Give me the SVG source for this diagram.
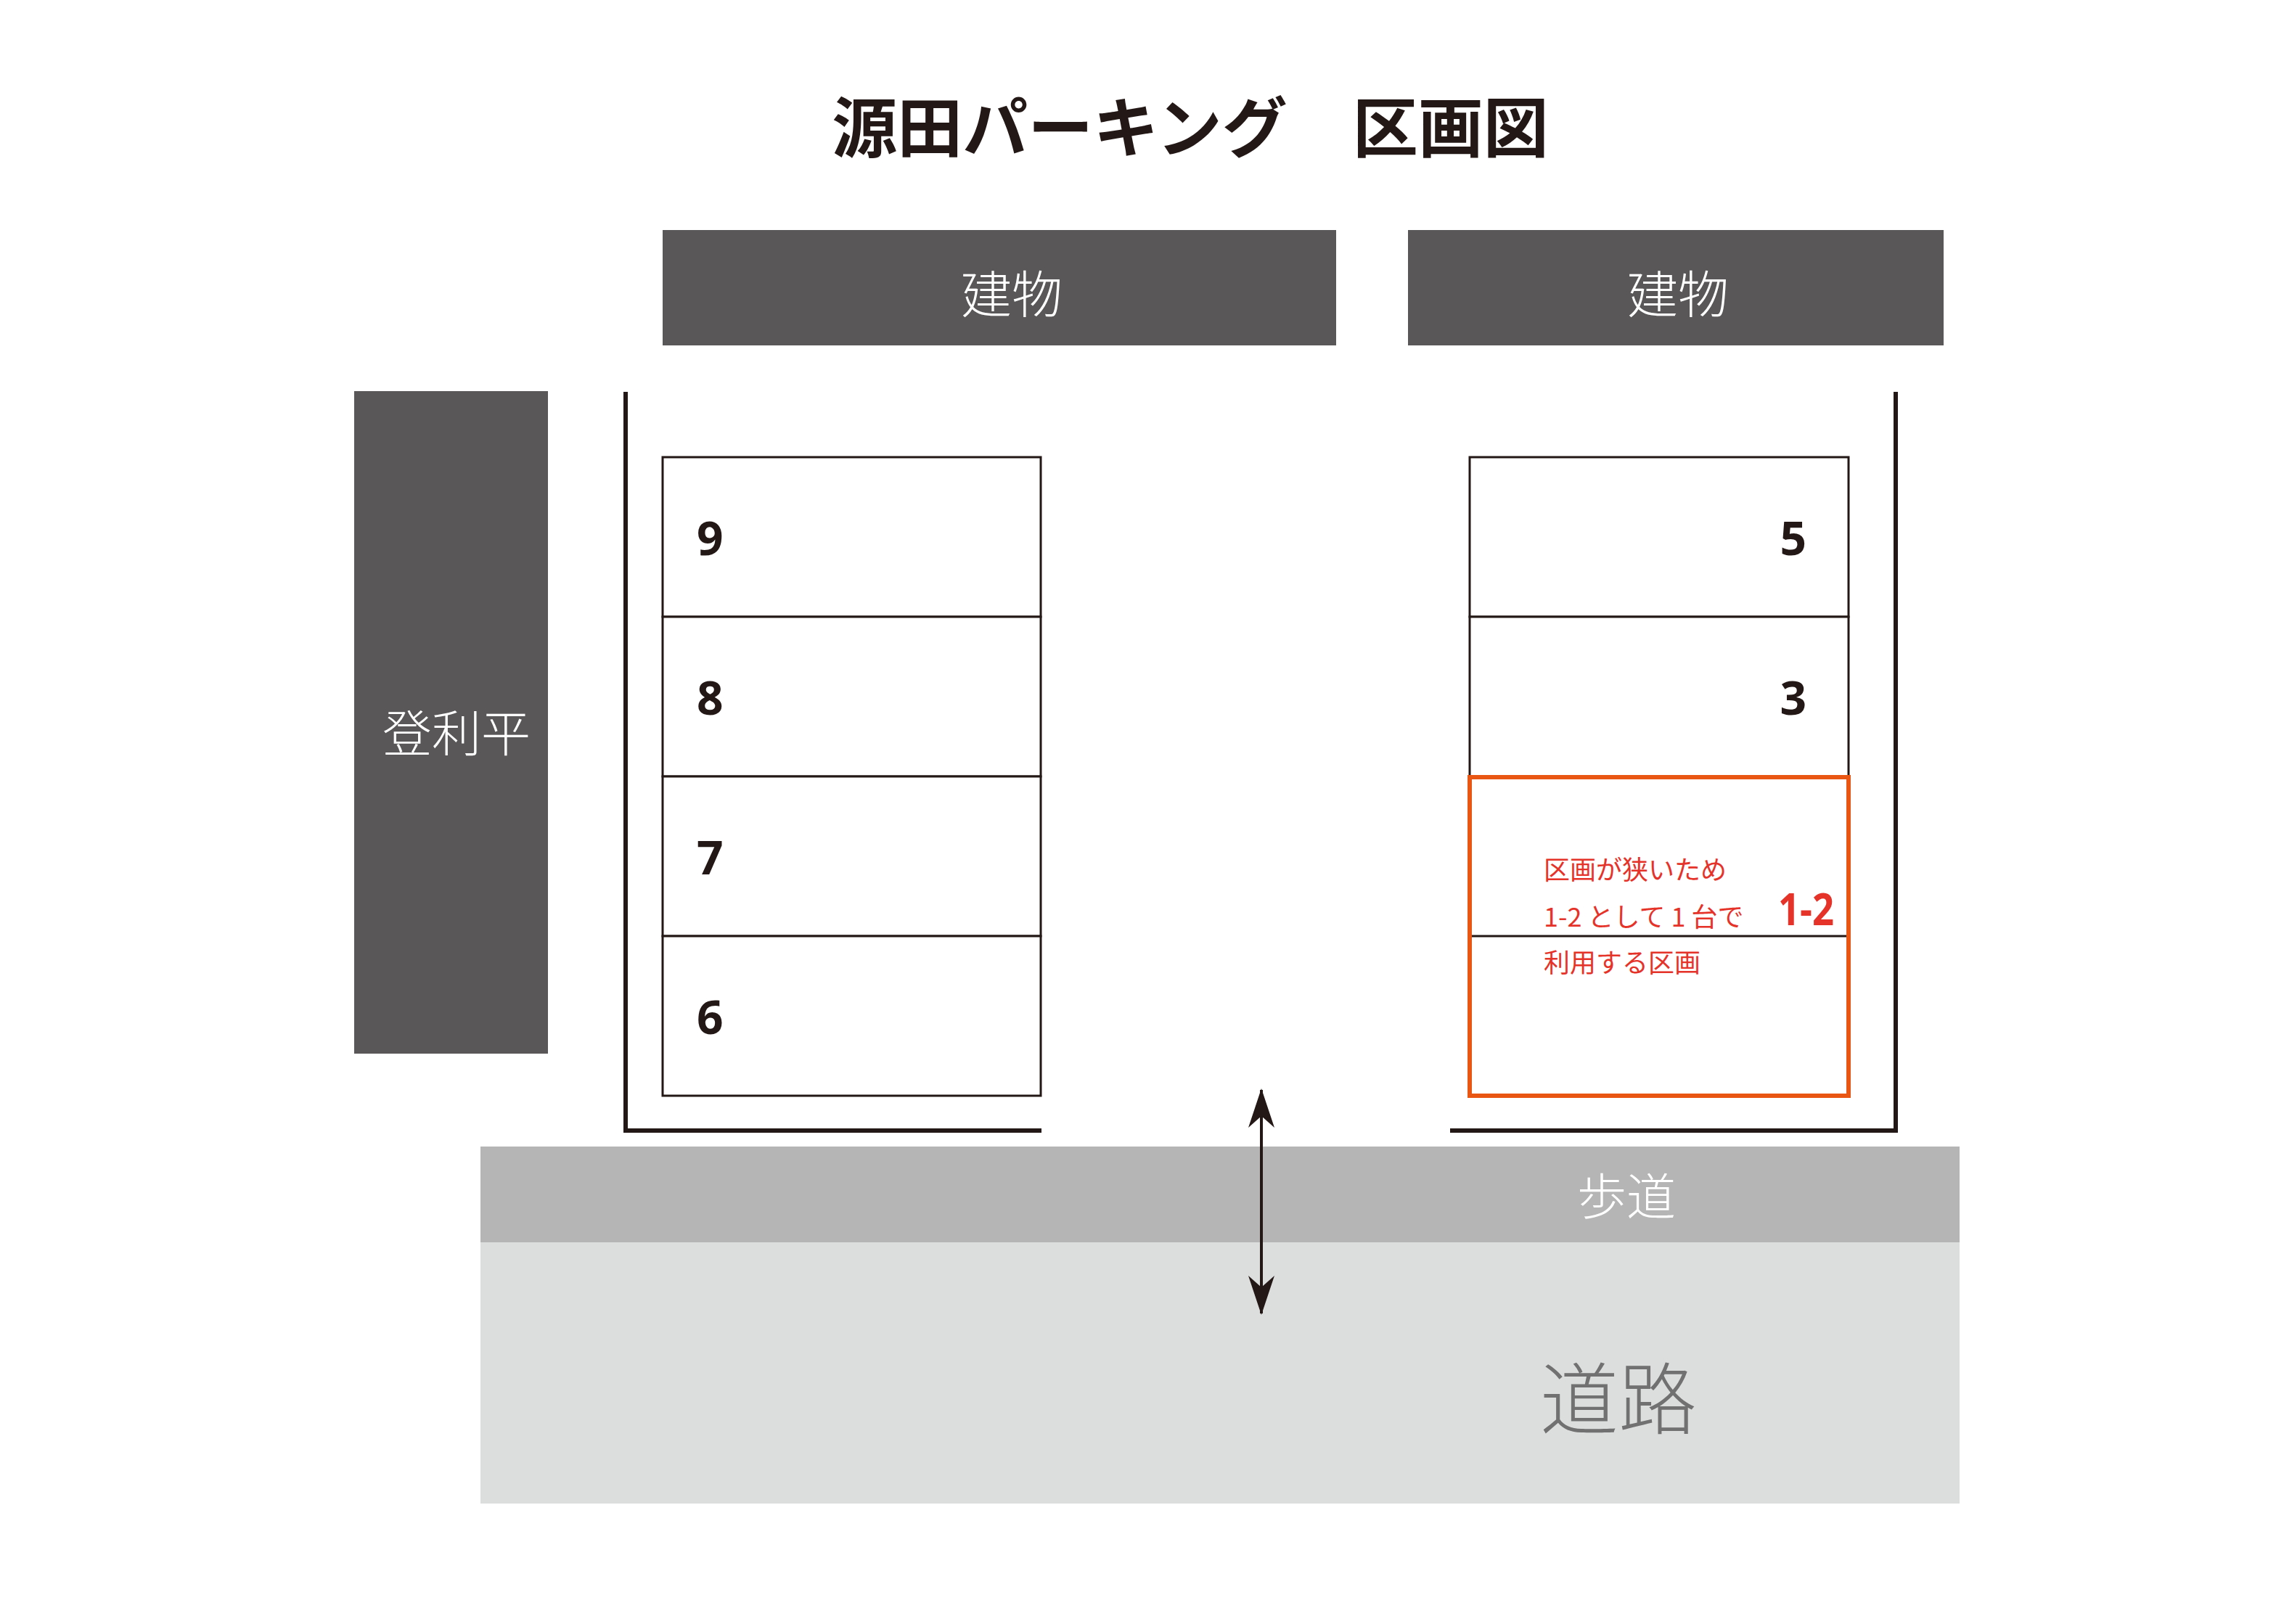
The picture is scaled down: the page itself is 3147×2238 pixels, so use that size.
<svg xmlns="http://www.w3.org/2000/svg" width="3147" height="2238" viewBox="0 0 3147 2238">
<defs>
<style>
.dark{fill:#595757}
.wlabel{fill:#ffffff;font-family:"Noto Sans CJK JP","Noto Sans",sans-serif;font-weight:300;text-anchor:middle}
.slot{fill:#ffffff;stroke:#231815;stroke-width:3}
.wall{fill:none;stroke:#231815;stroke-width:6}
.num{fill:#231815;font-family:"Open Sans","Liberation Sans",sans-serif;font-weight:700;font-size:64px}
.note{fill:#E6332A;font-family:"Noto Sans CJK JP","Noto Sans",sans-serif;font-weight:400;font-size:36px}
</style>
<marker id="ah" viewBox="0 0 54 36" refX="52" refY="18" markerWidth="54" markerHeight="36" markerUnits="userSpaceOnUse" orient="auto-start-reverse">
<path d="M0,0 L54,18 L0,36 L16,18 Z" fill="#231815"/>
</marker>
</defs>
<rect width="3147" height="2238" fill="#ffffff"/>

<g id="title">
<text x="1640" y="209" font-family="'Noto Sans CJK JP','Noto Sans',sans-serif" font-weight="700" font-size="90" fill="#231815" text-anchor="middle">源田パーキング　区画図</text>
</g>

<g id="building-left">
<rect class="dark" x="913" y="317" width="928" height="159"/>
<text class="wlabel" x="1394" y="432" font-size="70">建物</text>
</g>
<g id="building-right">
<rect class="dark" x="1940" y="317" width="738" height="159"/>
<text class="wlabel" x="2312" y="432" font-size="70">建物</text>
</g>
<g id="neighbor">
<rect class="dark" x="488" y="539" width="267" height="913"/>
<text class="wlabel" x="629" y="1036" font-size="68">登利平</text>
</g>

<g id="road">
<rect x="662" y="1712" width="2038" height="360" fill="#DCDDDD"/>
<text x="2230" y="1968" font-family="'Noto Sans CJK JP','Noto Sans',sans-serif" font-weight="300" font-size="108" fill="#727171" text-anchor="middle">道路</text>
</g>
<g id="sidewalk">
<rect x="662" y="1580" width="2038" height="132" fill="#B5B5B6"/>
<text class="wlabel" x="2241" y="1674" font-size="68">歩道</text>
</g>

<g id="walls">
<path class="wall" d="M862,540 V1558 H1435"/>
<path class="wall" d="M1998,1558 H2612 V540"/>
</g>

<g id="slot-9"><rect class="slot" x="913" y="630" width="521" height="220"/><text class="num" x="960" y="765">9</text></g>
<g id="slot-8"><rect class="slot" x="913" y="850" width="521" height="220"/><text class="num" x="960" y="985">8</text></g>
<g id="slot-7"><rect class="slot" x="913" y="1070" width="521" height="220"/><text class="num" x="960" y="1205">7</text></g>
<g id="slot-6"><rect class="slot" x="913" y="1290" width="521" height="220"/><text class="num" x="960" y="1425">6</text></g>

<g id="slot-5"><rect class="slot" x="2025" y="630" width="522" height="220"/><text class="num" x="2489" y="765" text-anchor="end">5</text></g>
<g id="slot-3"><rect class="slot" x="2025" y="850" width="522" height="220"/><text class="num" x="2489" y="985" text-anchor="end">3</text></g>

<g id="slot-1-2">
<line x1="2025" y1="1290" x2="2547" y2="1290" stroke="#231815" stroke-width="3"/>
<rect x="2025" y="1071" width="522" height="439" fill="none" stroke="#E95513" stroke-width="6"/>
<text class="note" x="2127" y="1212">区画が狭いため</text>
<text class="note" x="2127" y="1277">1-2 として 1 台で</text>
<text class="note" x="2127" y="1340">利用する区画</text>
<text x="2450" y="1275" font-family="'Open Sans','Liberation Sans',sans-serif" font-weight="700" font-size="60" fill="#E6332A" textLength="77" lengthAdjust="spacingAndGlyphs">1-2</text>
</g>

<g id="connectors">
<line x1="1738" y1="1502" x2="1738" y2="1810" stroke="#231815" stroke-width="4" marker-start="url(#ah)" marker-end="url(#ah)"/>
</g>
</svg>
